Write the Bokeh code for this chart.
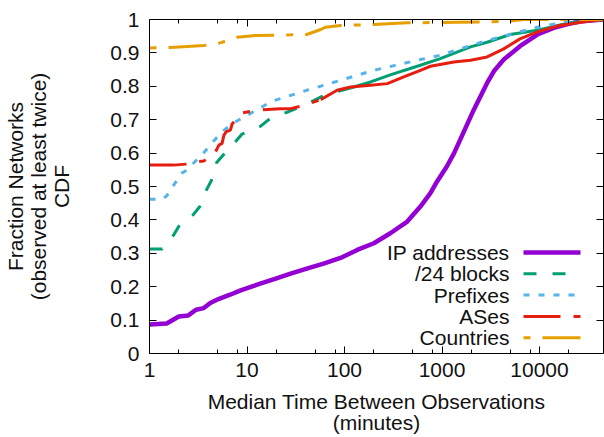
from bokeh.plotting import figure
from bokeh.models import LogAxis, LinearAxis, FixedTicker, PrintfTickFormatter, Label, Arrow, Range1d
from bokeh.embed import file_html
from bokeh.resources import INLINE

# ---------------- data ----------------
ip_x = [1, 1.5, 2.0, 2.5, 3.0, 3.6, 4.2, 5.1, 6.7, 8.6, 12.7, 19, 28, 41, 61, 91, 135, 200,
        295, 440, 600, 760, 890, 1120, 1330, 1680, 2120, 2900, 3400, 4300, 6300, 9500,
        14000, 20000, 26000, 36000, 45000]
ip_y = [0.087, 0.09, 0.111, 0.114, 0.131, 0.136, 0.151, 0.163, 0.176, 0.189, 0.206, 0.223,
        0.239, 0.254, 0.269, 0.286, 0.31, 0.33, 0.36, 0.395, 0.44, 0.48, 0.515, 0.56, 0.60,
        0.665, 0.73, 0.81, 0.845, 0.88, 0.92, 0.955, 0.975, 0.987, 0.994, 0.998, 1.0]

b24_x = [1, 1.35, 1.77, 2.04, 2.8, 3.28, 3.84, 4.3, 4.87, 5.7, 7.6, 8.9, 13.7, 16.7, 26, 40,
         59, 85, 115, 185, 300, 600, 960, 1960, 2900, 5000, 9500, 20000, 45000]
b24_y = [0.313, 0.313, 0.355, 0.385, 0.415, 0.44, 0.49, 0.517, 0.571, 0.594, 0.634, 0.657,
         0.68, 0.70, 0.723, 0.745, 0.77, 0.785, 0.795, 0.813, 0.835, 0.863, 0.883, 0.918,
         0.932, 0.955, 0.968, 0.99, 1.0]

pfx_x = [1, 1.35, 1.5, 1.77, 2.16, 2.3, 2.85, 3.6, 4.4, 5.55, 7.05, 10, 18, 41, 91, 200,
         600, 960, 1960, 2900, 9500, 20000, 45000]
pfx_y = [0.462, 0.462, 0.472, 0.504, 0.541, 0.545, 0.571, 0.601, 0.631, 0.664, 0.688, 0.713,
         0.755, 0.788, 0.818, 0.848, 0.88, 0.893, 0.922, 0.937, 0.977, 0.994, 1.0]

as_x = [1, 1.77, 2.34, 2.85, 3.6, 4.75, 5.15, 5.55, 5.8, 6.15, 6.75, 7.05, 8.6, 8.9, 12.2,
        22, 28, 38, 57, 84, 115, 185, 275, 405, 600, 760, 1320, 1960, 2900, 4300, 6300,
        9500, 16000, 31000, 45000]
as_y = [0.564, 0.564, 0.567, 0.574, 0.576, 0.604, 0.624, 0.629, 0.654, 0.664, 0.669, 0.688,
        0.713, 0.72, 0.728, 0.733, 0.733, 0.743, 0.76, 0.788, 0.798, 0.803, 0.808, 0.828,
        0.848, 0.860, 0.873, 0.878, 0.888, 0.912, 0.942, 0.963, 0.982, 0.995, 1.0]

cc_x = [1, 1.64, 3.6, 5.3, 7.9, 12.2, 28, 41, 57, 64, 91, 200, 440, 1440, 4700, 6900, 45000]
cc_y = [0.915, 0.916, 0.922, 0.93, 0.947, 0.952, 0.954, 0.955, 0.97, 0.977, 0.982, 0.985,
        0.99, 0.992, 0.994, 1.0, 1.0]

labels = ["IP addresses", "/24 blocks", "Prefixes", "ASes", "Countries"]

x_major = [1, 10, 100, 1000, 10000]
x_minor_mult = [2, 5, 8]
y_ticks = [0, 0.1, 0.2, 0.3, 0.4, 0.5, 0.6, 0.7, 0.8, 0.9, 1]
y_tick_labels = ["0", "0.1", "0.2", "0.3", "0.4", "0.5", "0.6", "0.7", "0.8", "0.9", "1"]

x_label = ["Median Time Between Observations", "(minutes)"]
y_label = ["Fraction Networks", "(observed at least twice)", "CDF"]

# ---------------- styling ----------------
FONT = "Liberation Sans"
FS = "21px"
TXT = "#111111"
colors = ["#9400D3", "#009E73", "#56B4E9", "#E51E10", "#E69F00"]
widths = [4.5, 3, 3, 3, 3]
dashes = ["solid", "13 16", "6 9", "37 13 7 13", "7 12 38 12"]
SOLID_FROM_B24 = 115   # dense part drawn solid, as in the reference
SOLID_FROM_AS = 50

p = figure(width=604, height=437, x_axis_type="log",
           x_range=Range1d(1, 45300), y_range=Range1d(0, 1),
           output_backend="svg", toolbar_location=None,
           min_border_left=149, min_border_right=1, min_border_top=19, min_border_bottom=83)
p.xgrid.visible = False
p.ygrid.visible = False
p.outline_line_color = None
p.background_fill_color = "white"
p.border_fill_color = "white"

x_minor = [m * 10 ** k for k in range(0, 5) for m in x_minor_mult]
xt = FixedTicker(ticks=x_major, minor_ticks=x_minor)
yt = FixedTicker(ticks=y_ticks)


def style(ax, show):
    ax.axis_line_color = "black"
    ax.axis_line_width = 1
    ax.major_tick_line_color = "black"
    ax.minor_tick_line_color = "black"
    ax.major_tick_in = 7
    ax.major_tick_out = 0
    ax.minor_tick_in = 4
    ax.minor_tick_out = 0
    ax.major_label_text_font = FONT
    ax.major_label_text_color = TXT
    ax.axis_label_text_font = FONT
    ax.axis_label_text_font_size = FS
    ax.axis_label_text_font_style = "normal"
    ax.axis_label_text_color = TXT
    ax.axis_label_text_line_height = 1.0
    if show:
        ax.major_label_text_font_size = FS
    else:
        ax.major_label_text_font_size = "1px"
        ax.major_label_text_alpha = 0
        ax.major_label_standoff = 0


bx = p.xaxis[0]
bx.ticker = xt
bx.formatter = PrintfTickFormatter(format="%d")
style(bx, True)
bx.major_label_standoff = 9
bx.axis_label = "\n".join(x_label)
bx.axis_label_standoff = 10
bx.axis_label_text_line_height = 0.95

ly = p.yaxis[0]
ly.ticker = yt
ly.major_label_overrides = {t: s for t, s in zip(y_ticks, y_tick_labels)}
style(ly, True)
ly.major_label_standoff = 10
ly.axis_label = "\n".join(y_label)
ly.axis_label_standoff = 34

tx = LogAxis(ticker=FixedTicker(ticks=x_major, minor_ticks=x_minor))
style(tx, False)
p.add_layout(tx, "above")
ry = LinearAxis(ticker=FixedTicker(ticks=y_ticks))
style(ry, False)
p.add_layout(ry, "right")

# ---------------- curves ----------------
p.line(ip_x, ip_y, line_color=colors[0], line_width=widths[0], line_join="round")

i24 = next(i for i, v in enumerate(b24_x) if v >= SOLID_FROM_B24)
p.line(b24_x[:i24 + 1], b24_y[:i24 + 1], line_color=colors[1], line_width=widths[1],
       line_dash=dashes[1])
p.line(b24_x[i24:], b24_y[i24:], line_color=colors[1], line_width=widths[1], line_join="round")

p.line(pfx_x, pfx_y, line_color=colors[2], line_width=widths[2], line_dash=dashes[2])

ias = next(i for i, v in enumerate(as_x) if v >= SOLID_FROM_AS)
p.line(as_x[:ias + 1], as_y[:ias + 1], line_color=colors[3], line_width=widths[3],
       line_dash=dashes[3])
p.line(as_x[ias:], as_y[ias:], line_color=colors[3], line_width=widths[3], line_join="round")

p.line(cc_x, cc_y, line_color=colors[4], line_width=widths[4], line_dash=dashes[4])

# ---------------- legend (label left, sample right) ----------------
LEG_TEXT_X = 360
LEG_S0, LEG_S1 = 374, 431
LEG_Y0, LEG_DY = 101, 21.3
for i, lab in enumerate(labels):
    yy = LEG_Y0 - LEG_DY * i
    p.add_layout(Label(x=LEG_TEXT_X, y=yy, x_units="screen", y_units="screen", text=lab,
                       text_font=FONT, text_font_size=FS, text_color=TXT,
                       text_align="right", text_baseline="middle"))
    p.add_layout(Arrow(end=None, start=None, x_start=LEG_S0, y_start=yy, x_end=LEG_S1, y_end=yy,
                       start_units="screen", end_units="screen",
                       line_color=colors[i], line_width=widths[i], line_dash=dashes[i]))

open("out.html", "w").write(file_html(p, INLINE))
